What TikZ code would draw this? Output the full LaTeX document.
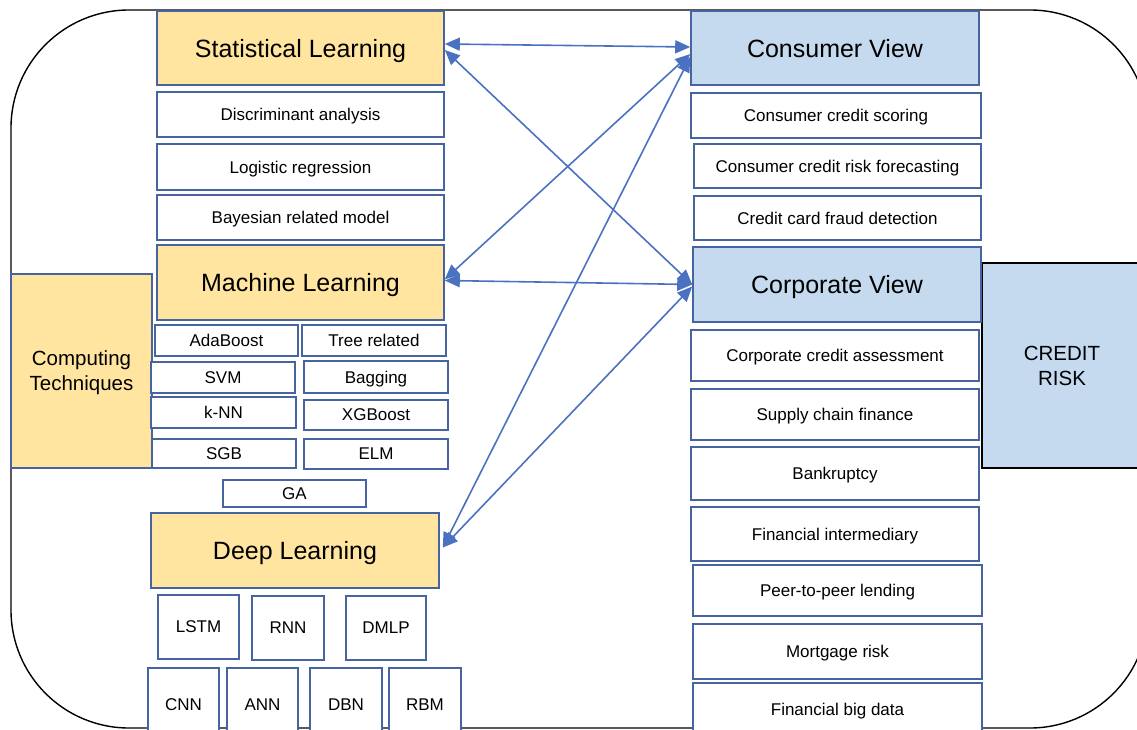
\documentclass[tikz,border=0pt]{standalone}
\usepackage{fontspec}
\setmainfont{Liberation Sans}
\usetikzlibrary{arrows.meta}
\definecolor{techfill}{HTML}{FFE5A0}
\definecolor{viewfill}{HTML}{C5DAEE}
\definecolor{boxline}{HTML}{4564A0}
\definecolor{linkblue}{HTML}{4A72C0}

\begin{document}
\begin{tikzpicture}[x=1pt, y=-1pt,
    box/.style={draw=boxline, line width=1.6pt, inner sep=0pt, align=center, text depth=0pt},
    head/.style={box, font=\fontsize{25}{30}\selectfont},
    item/.style={box, fill=white, font=\fontsize{17}{20}\selectfont},
    tech/.style={head, fill=techfill},
    view/.style={head, fill=viewfill},
    link/.style={linkblue, line width=1.6pt, {Triangle[length=15pt,width=13pt]}-{Triangle[length=15pt,width=13pt]}}]
                \useasboundingbox (0,0) rectangle (1137,730);
                \clip (0,0) rectangle (1137,730);

                % outer frame
                \draw[line width=1.4pt, rounded corners=118pt] (11,10) rectangle (1148,728);

                % Computing techniques column
                \node[box, fill=techfill, minimum width=141pt, minimum height=194pt,
                      font=\fontsize{20.5}{25}\selectfont] (ct) at (81.5,371) {Computing\\Techniques};

                \node[tech, minimum width=287pt, minimum height=74pt] (sl) at (300.5,48) {Statistical Learning};
                \node[item, minimum width=287pt, minimum height=45pt] (da) at (300.5,114.5) {Discriminant analysis};
                \node[item, minimum width=287pt, minimum height=46pt] (lr) at (300.5,167) {Logistic regression};
                \node[item, minimum width=287pt, minimum height=45pt] (brm) at (300.5,217.5) {Bayesian related model};

                \node[tech, minimum width=287pt, minimum height=75pt] (ml) at (300.5,282.5) {Machine Learning};
                \node[item, minimum width=143pt, minimum height=31pt] (ada) at (226.5,340.5) {AdaBoost};
                \node[item, minimum width=144pt, minimum height=31pt] (tree) at (374,340.5) {Tree related};
                \node[item, minimum width=144pt, minimum height=31pt] (svm) at (223,377.5) {SVM};
                \node[item, minimum width=144pt, minimum height=32pt] (bag) at (376,377) {Bagging};
                \node[item, minimum width=145pt, minimum height=31pt] (knn) at (223.5,412.5) {k-NN};
                \node[item, minimum width=144pt, minimum height=30pt] (xgb) at (376,415) {XGBoost};
                \node[item, minimum width=144pt, minimum height=29pt] (sgb) at (224,453.5) {SGB};
                \node[item, minimum width=144pt, minimum height=30pt] (elm) at (376,454) {ELM};
                \node[item, minimum width=143pt, minimum height=27pt] (ga) at (294.5,493.5) {GA};

                \node[tech, minimum width=288pt, minimum height=75pt] (dl) at (295,550.5) {Deep Learning};
                \node[item, minimum width=81pt, minimum height=64pt] (lstm) at (198.5,627) {LSTM};
                \node[item, minimum width=72pt, minimum height=64pt] (rnn) at (288,628) {RNN};
                \node[item, minimum width=80pt, minimum height=64pt] (dmlp) at (386,628) {DMLP};
                \node[item, minimum width=71pt, minimum height=74pt] (cnn) at (183.5,705) {CNN};
                \node[item, minimum width=71pt, minimum height=74pt] (ann) at (262.5,705) {ANN};
                \node[item, minimum width=72pt, minimum height=74pt] (dbn) at (346,705) {DBN};
                \node[item, minimum width=72pt, minimum height=74pt] (rbm) at (425,705) {RBM};

                % Credit risk side
                \node[draw=black, line width=1.6pt, fill=viewfill, minimum width=160pt, minimum height=205pt,
                      align=center, text depth=0pt, font=\fontsize{20.5}{25}\selectfont] (cr) at (1062,365.5) {CREDIT\\RISK};

                \node[view, minimum width=288pt, minimum height=74pt] (cv) at (835,48) {Consumer View};
                \node[item, minimum width=290pt, minimum height=45pt] (ccs) at (836,115.5) {Consumer credit scoring};
                \node[item, minimum width=287pt, minimum height=44pt] (ccrf) at (837.5,166) {Consumer credit risk forecasting};
                \node[item, minimum width=287pt, minimum height=44pt] (ccfd) at (837.5,218) {Credit card fraud detection};

                \node[view, minimum width=288pt, minimum height=75pt] (corp) at (837,284.5) {Corporate View};
                \node[item, minimum width=288pt, minimum height=51pt] (cca) at (835,355.5) {Corporate credit assessment};
                \node[item, minimum width=288pt, minimum height=51pt] (scf) at (835,414.5) {Supply chain finance};
                \node[item, minimum width=288pt, minimum height=53pt] (bank) at (835,473.5) {Bankruptcy};
                \node[item, minimum width=288pt, minimum height=54pt] (fi) at (835,534) {Financial intermediary};
                \node[item, minimum width=289pt, minimum height=51pt] (p2p) at (837.5,590.5) {Peer-to-peer lending};
                \node[item, minimum width=289pt, minimum height=55pt] (mort) at (837.5,651.5) {Mortgage risk};
                \node[item, minimum width=289pt, minimum height=52pt] (fbd) at (837.5,709) {Financial big data};

                % links between techniques and views
                \draw[link] ([yshift=4pt]sl.east) -- ([yshift=1pt]cv.west);
                \draw[link] ([yshift=-2pt]sl.east) -- (corp.west);
                \draw[link] ([yshift=3pt]ml.east) -- ([yshift=-6pt]cv.west);
                \draw[link] ([yshift=2pt]ml.east) -- (corp.west);
                \draw[link] ([xshift=3pt,yshift=3pt]dl.east) -- ([yshift=-9pt]cv.west);
                \draw[link] ([xshift=3pt,yshift=3pt]dl.east) -- ([yshift=-2pt]corp.west);
            \end{tikzpicture}
\end{document}
